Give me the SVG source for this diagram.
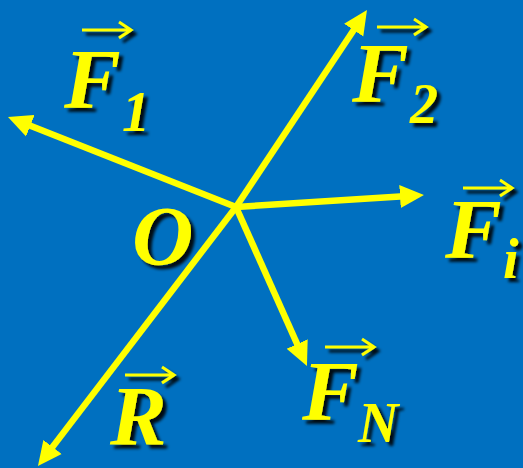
<svg xmlns="http://www.w3.org/2000/svg" width="523" height="468" viewBox="0 0 523 468">
<defs>
<filter id="sh" x="-20%" y="-20%" width="150%" height="150%">
<feDropShadow dx="4" dy="4" stdDeviation="1.5" flood-color="#000" flood-opacity="0.9"/>
</filter>
<marker id="ah" markerUnits="userSpaceOnUse" markerWidth="26" markerHeight="24" refX="4" refY="12" orient="auto" viewBox="0 0 26 24">
<path d="M0,0.5 L24,12 L0,23.5 z" fill="#FFFF00"/>
</marker>
<style>
.lbl{font-family:"Liberation Serif","Times New Roman",serif;font-weight:bold;font-style:italic;fill:#FFFF00}
.big{font-size:85px}
.sub{font-size:56px}
.vec{fill:none;stroke:#FFFF00;stroke-width:3}
.force{stroke:#FFFF00;stroke-width:6.5;fill:none;marker-end:url(#ah)}
</style>
</defs>
<rect x="0" y="0" width="523" height="468" fill="#0070C0"/>
<g id="connectors">
<line class="force" x1="236" y1="207" x2="26.6" y2="124.3"/>
<line class="force" x1="236" y1="207" x2="355.9" y2="26.7"/>
<line class="force" x1="236" y1="207" x2="404" y2="196.3"/>
<line class="force" x1="236" y1="207" x2="298.8" y2="347.7"/>
<line class="force" x1="236" y1="207" x2="50.1" y2="450.1"/>
</g>
<g id="node-F1" filter="url(#sh)">
<path class="vec" d="M82,30 H130 M119,22 L131,30 L119,38"/>
<text class="lbl big" x="64" y="108">F</text>
<text class="lbl sub" x="122" y="131">1</text>
</g>
<g id="node-F2" filter="url(#sh)">
<path class="vec" d="M377,27 H425 M414,19 L426,27 L414,35"/>
<text class="lbl big" x="352" y="102">F</text>
<text class="lbl sub" x="410" y="123">2</text>
</g>
<g id="node-Fi" filter="url(#sh)">
<path class="vec" d="M463,188 H511 M500,180 L512,188 L500,196"/>
<text class="lbl big" x="445" y="258">F</text>
<text class="lbl sub" x="503" y="278">i</text>
</g>
<g id="node-FN" filter="url(#sh)">
<path class="vec" d="M325,347 H373 M362,339 L374,347 L362,355"/>
<text class="lbl big" x="302" y="420">F</text>
<text class="lbl sub" x="358" y="442">N</text>
</g>
<g id="node-R" filter="url(#sh)">
<path class="vec" d="M125,375 H173 M162,367 L174,375 L162,383"/>
<text class="lbl big" x="110" y="445">R</text>
</g>
<g id="node-O" filter="url(#sh)">
<text class="lbl big" x="132" y="265">O</text>
</g>
</svg>
